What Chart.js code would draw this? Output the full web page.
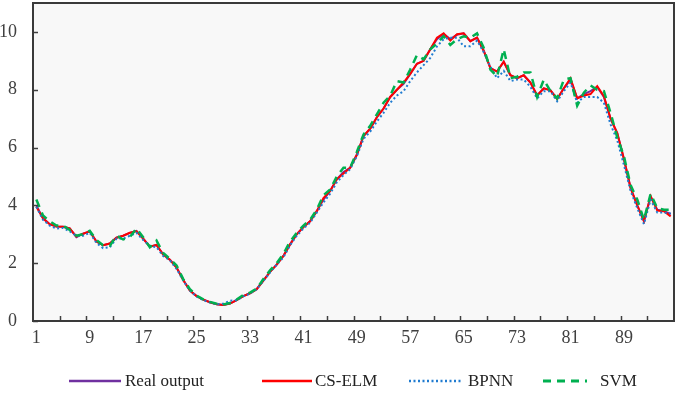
<!DOCTYPE html>
<html>
<head>
<meta charset="utf-8">
<script src="https://cdn.jsdelivr.net/npm/chart.js@4.4.0/dist/chart.umd.min.js"></script>
<style>
  body { margin: 0; background: #fff; }
  #wrap { position: relative; width: 678px; height: 393px; }
  #legend { position: absolute; left: 0; top: 371px; width: 678px; height: 20px;
            font-family: "Liberation Serif", "Times New Roman", serif; font-size: 17px; color: #222; }
  .item svg { position: absolute; top: 7px; }
  .item span { position: absolute; top: 0; line-height: 20px; white-space: nowrap; }
</style>
</head>
<body>
<div id="wrap">
  <canvas id="chart" width="678" height="393"></canvas>
  <div id="legend"></div>
</div>
<script>
// sample index 1..96
const samples = Array.from({ length: 96 }, (_, i) => i + 1);
const xLabels = [1, 9, 17, 25, 33, 41, 49, 57, 65, 73, 81, 89];
const yTicks = [0, 2, 4, 6, 8, 10];

const realOutput = [
  4.0, 3.55, 3.35, 3.27, 3.26, 3.2, 2.9, 3.02, 3.1, 2.75,
  2.62, 2.68, 2.88, 2.95, 3.05, 3.12, 2.85, 2.57, 2.63, 2.3,
  2.12, 1.85, 1.42, 1.05, 0.86, 0.74, 0.65, 0.58, 0.55, 0.6,
  0.72, 0.86, 0.96, 1.1, 1.4, 1.7, 1.95, 2.25, 2.65, 3.0,
  3.25, 3.45, 3.8, 4.2, 4.5, 4.9, 5.15, 5.3, 5.75, 6.4,
  6.65, 7.05, 7.35, 7.75, 8.0, 8.2, 8.55, 8.9, 9.0, 9.4,
  9.75, 9.93, 9.75, 9.9, 9.95, 9.68, 9.8, 9.35, 8.75, 8.63,
  8.97, 8.5, 8.4, 8.5, 8.25, 7.8, 8.05, 7.98, 7.68, 8.05,
  8.35, 7.7, 7.85, 7.95, 8.1, 7.75, 7.0, 6.5, 5.6, 4.6,
  4.0, 3.45, 4.3, 3.85, 3.8, 3.7
];
const csElm = [
  3.95, 3.55, 3.35, 3.27, 3.26, 3.2, 2.92, 3.02, 3.1, 2.75,
  2.62, 2.68, 2.88, 2.95, 3.05, 3.1, 2.85, 2.57, 2.63, 2.3,
  2.12, 1.85, 1.42, 1.05, 0.86, 0.74, 0.65, 0.58, 0.55, 0.6,
  0.72, 0.86, 0.96, 1.1, 1.4, 1.7, 1.95, 2.25, 2.65, 3.0,
  3.25, 3.45, 3.8, 4.25, 4.5, 4.9, 5.1, 5.3, 5.75, 6.4,
  6.65, 7.05, 7.35, 7.75, 8.0, 8.25, 8.55, 8.9, 9.0, 9.4,
  9.8, 9.95, 9.7, 9.92, 9.95, 9.68, 9.8, 9.35, 8.75, 8.63,
  8.97, 8.5, 8.4, 8.5, 8.25, 7.8, 8.05, 7.98, 7.68, 8.05,
  8.4, 7.7, 7.8, 7.85, 8.12, 7.78, 7.0, 6.5, 5.6, 4.6,
  4.0, 3.45, 4.32, 3.82, 3.8, 3.62
];
const bpnn = [
  3.95, 3.5, 3.3, 3.2, 3.22, 3.1, 2.95, 2.95, 3.05, 2.7,
  2.52, 2.55, 2.85, 2.85, 2.95, 3.05, 2.8, 2.6, 2.55, 2.25,
  2.1, 1.8, 1.4, 1.05, 0.85, 0.72, 0.64, 0.58, 0.6, 0.7,
  0.72, 0.85, 0.95, 1.1, 1.38, 1.68, 1.95, 2.2, 2.62, 2.95,
  3.2, 3.4, 3.75, 4.1, 4.4, 4.8, 5.05, 5.25, 5.7, 6.3,
  6.55, 6.9, 7.2, 7.55, 7.8, 7.95, 8.3, 8.6, 8.85, 9.1,
  9.5, 9.75, 9.8, 9.8, 9.5, 9.5, 9.7, 9.3, 8.8, 8.4,
  8.65, 8.3, 8.35, 8.35, 8.1, 7.7, 7.95, 7.95, 7.6, 7.95,
  8.25, 7.55, 7.75, 7.75, 7.75, 7.55, 6.8, 6.25, 5.4, 4.5,
  3.9, 3.35, 4.2, 3.75, 3.75, 3.72
];
const svm = [
  4.2, 3.65, 3.45, 3.3, 3.3, 3.15, 2.95, 3.0, 3.12, 2.8,
  2.62, 2.6, 2.95, 2.82, 2.9, 3.2, 2.9, 2.55, 2.78, 2.35,
  2.15, 1.92, 1.45, 1.1, 0.88, 0.75, 0.66, 0.6, 0.57, 0.62,
  0.74, 0.9, 0.98, 1.12, 1.45, 1.75, 2.0, 2.32, 2.75, 3.05,
  3.3, 3.5, 3.85, 4.35, 4.55, 5.0, 5.3, 5.3, 5.85, 6.45,
  6.75, 7.15, 7.55, 7.8, 8.3, 8.25, 8.7, 9.2, 9.05, 9.4,
  9.6, 9.85, 9.55, 9.75, 9.85, 9.8, 9.95, 9.45, 8.7, 8.45,
  9.4, 8.4, 8.45, 8.6, 8.6, 7.75, 8.35, 7.95, 7.7, 8.35,
  8.4, 7.45, 7.9, 8.15, 8.0, 7.95, 7.2, 6.35, 5.7, 4.7,
  4.2, 3.5, 4.4, 3.9, 3.85, 3.85
];

const series = [
  { label: "Real output", data: realOutput, color: "#7030a0", width: 2, dash: [] },
  { label: "CS-ELM", data: csElm, color: "#ff0000", width: 2, dash: [] },
  { label: "BPNN", data: bpnn, color: "#1f7bd0", width: 2, dash: [2, 2.5] },
  { label: "SVM", data: svm, color: "#00b050", width: 2.5, dash: [8, 6] }
];

const fontFamily = "'Liberation Serif', 'Times New Roman', serif";

// plot background, frame and inward tick marks
const framePlugin = {
  id: "frame",
  beforeDatasetsDraw(chart) {
    const { ctx, chartArea: a } = chart;
    ctx.save();
    ctx.fillStyle = "#f8f8f8";
    ctx.fillRect(a.left, a.top, a.right - a.left, a.bottom - a.top);
    ctx.restore();
  },
  afterDraw(chart) {
    const { ctx, chartArea: a, scales } = chart;
    ctx.save();
    ctx.strokeStyle = "#404040";
    ctx.lineWidth = 1.5;
    ctx.beginPath();
    for (let v = 4.5; v < 96.5; v += 4) {
      const x = Math.round(scales.x.getPixelForValue(v)) + 0.5;
      ctx.moveTo(x, a.bottom);
      ctx.lineTo(x, a.bottom - 5);
    }
    yTicks.forEach(v => {
      const y = Math.round(scales.y.getPixelForValue(v)) + 0.5;
      ctx.moveTo(a.left, y);
      ctx.lineTo(a.left + 5, y);
    });
    ctx.stroke();
    ctx.lineWidth = 2;
    ctx.strokeStyle = "#3a3a3a";
    ctx.strokeRect(a.left, a.top, a.right - a.left, a.bottom - a.top);
    ctx.restore();
  }
};

const n = series.length;
new Chart(document.getElementById("chart"), {
  type: "line",
  data: {
    labels: samples,
    datasets: series.map((s, i) => ({
      label: s.label,
      data: s.data,
      borderColor: s.color,
      backgroundColor: s.color,
      borderWidth: s.width,
      borderDash: s.dash,
      pointRadius: 0,
      tension: 0,
      fill: false,
      order: n - i
    }))
  },
  options: {
    responsive: false,
    animation: false,
    layout: { padding: { top: 3, right: 4, left: 0, bottom: 42 } },
    plugins: { legend: { display: false }, tooltip: { enabled: false } },
    scales: {
      x: {
        type: "linear",
        min: 0.5,
        max: 96.5,
        grid: { display: false, drawTicks: false },
        border: { display: false },
        afterBuildTicks: scale => { scale.ticks = xLabels.map(v => ({ value: v })); },
        afterFit: scale => { scale.height = 30; scale.paddingLeft = 0; scale.paddingRight = 0; },
        ticks: {
          autoSkip: false,
          maxRotation: 0,
          padding: 6,
          color: "#404040",
          font: { family: fontFamily, size: 18 },
          callback: v => String(v)
        }
      },
      y: {
        min: 0,
        max: 11,
        grid: { display: false, drawTicks: false },
        border: { display: false },
        afterBuildTicks: scale => { scale.ticks = yTicks.map(v => ({ value: v })); },
        afterFit: scale => { scale.width = 33; scale.paddingTop = 0; scale.paddingBottom = 0; },
        ticks: {
          padding: 16,
          color: "#404040",
          font: { family: fontFamily, size: 18 },
          callback: v => String(v)
        }
      }
    }
  },
  plugins: [framePlugin]
});

// legend below the plot
const legendPos = [
  { line: 69, w: 52, text: 125 },
  { line: 262, w: 50, text: 315 },
  { line: 409, w: 54, text: 468 },
  { line: 543, w: 44, text: 600 }
];
const legend = document.getElementById("legend");
series.forEach((s, i) => {
  const p = legendPos[i];
  const item = document.createElement("div");
  item.className = "item";
  item.innerHTML =
    `<svg width="${p.w}" height="6" style="left:${p.line}px">` +
    `<line x1="0" y1="3" x2="${p.w}" y2="3" stroke="${s.color}" stroke-width="${s.width + 0.5}" ` +
    `stroke-dasharray="${s.dash.length ? s.dash.join(",") : "none"}"/></svg>` +
    `<span style="left:${p.text}px">${s.label}</span>`;
  legend.appendChild(item);
});
</script>
</body>
</html>
